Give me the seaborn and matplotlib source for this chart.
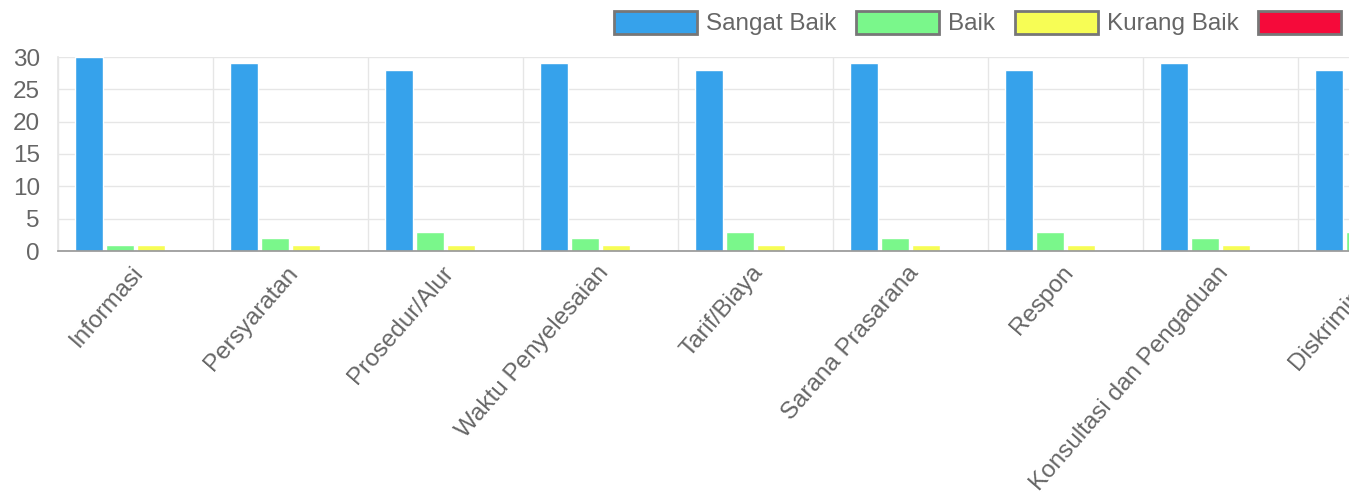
import pandas as pd
import matplotlib.pyplot as plt
import matplotlib.patches as mpatches
import matplotlib.transforms as mtransforms
import seaborn as sns

kategori = ["Informasi", "Persyaratan", "Prosedur/Alur", "Waktu Penyelesaian",
            "Tarif/Biaya", "Sarana Prasarana", "Respon",
            "Konsultasi dan Pengaduan", "Diskriminasi"]
sangat_baik = [30, 29, 28, 29, 28, 29, 28, 29, 28]
baik = [1, 2, 3, 2, 3, 2, 3, 2, 3]
kurang_baik = [1, 1, 1, 1, 1, 1, 1, 1, 1]
tidak_baik = [0, 0, 0, 0, 0, 0, 0, 0, 0]

seri = ["Sangat Baik", "Baik", "Kurang Baik", "Tidak Baik"]
warna = ["#36a2eb", "#7af78b", "#f7fd55", "#f50a3a"]

data = pd.DataFrame({
    "Kategori": kategori * 4,
    "Penilaian": [s for s in seri for _ in kategori],
    "Jumlah": sangat_baik + baik + kurang_baik + tidak_baik,
})

sns.set_theme(style="white")
plt.rcParams["font.family"] = ["Liberation Sans", "DejaVu Sans"]
abu = "#666666"
fs = 17.5

fig = plt.figure(figsize=(13.66, 4.97), dpi=100)
W, H = 1366, 497
ax = fig.add_axes([58 / W, (H - 251) / H, 9 * 155 / W, 194 / H])

sns.barplot(data=data, x="Kategori", y="Jumlah", hue="Penilaian",
            hue_order=seri, palette=warna, width=0.8, gap=0.1,
            saturation=1, ax=ax, legend=False)

ax.set_xlim(-0.5, len(kategori) - 0.5)
ax.set_ylim(0, 30)
ax.set_yticks(range(0, 31, 5))
ax.set_xlabel("")
ax.set_ylabel("")

ax.set_xticks([i + 0.5 for i in range(-1, len(kategori))], minor=True)
ax.grid(True, axis="y", color="#e6e6e6", lw=1)
ax.grid(True, axis="x", which="minor", color="#e6e6e6", lw=1)
ax.set_axisbelow(True)
ax.tick_params(axis="x", which="minor", length=14, color="#e6e6e6", width=1)
ax.tick_params(axis="x", which="major", length=0, pad=13, labelsize=fs, labelcolor=abu)
ax.tick_params(axis="y", length=0, pad=13, labelsize=fs, labelcolor=abu)
geser = mtransforms.ScaledTranslation(4 / 100, 0, fig.dpi_scale_trans)
for lbl in ax.get_xticklabels():
    lbl.set_rotation(49)
    lbl.set_ha("right")
    lbl.set_va("center")
    lbl.set_rotation_mode("anchor")
    lbl.set_transform(lbl.get_transform() + geser)

for side in ["top", "right"]:
    ax.spines[side].set_visible(False)
ax.spines["left"].set_color("#e6e6e6")
ax.spines["bottom"].set_color("#999999")

handles = [mpatches.Patch(facecolor=c, edgecolor="#777777", lw=2, label=s)
           for s, c in zip(seri, warna)]
fig.legend(handles=handles, loc="center left", bbox_to_anchor=(614 / W, 1 - 23 / H),
           ncol=4, frameon=False, fontsize=fs, labelcolor=abu,
           handlelength=3.42, handleheight=1.1, handletextpad=0.37,
           columnspacing=0.8, borderpad=0, borderaxespad=0)

# kanvas asli terpotong di sisi kanan
fig.add_artist(mpatches.Rectangle((1349 / W, 0), 1, 1, transform=fig.transFigure,
                                  facecolor="white", edgecolor="none", zorder=20))

fig.savefig("out.png", dpi=100)
